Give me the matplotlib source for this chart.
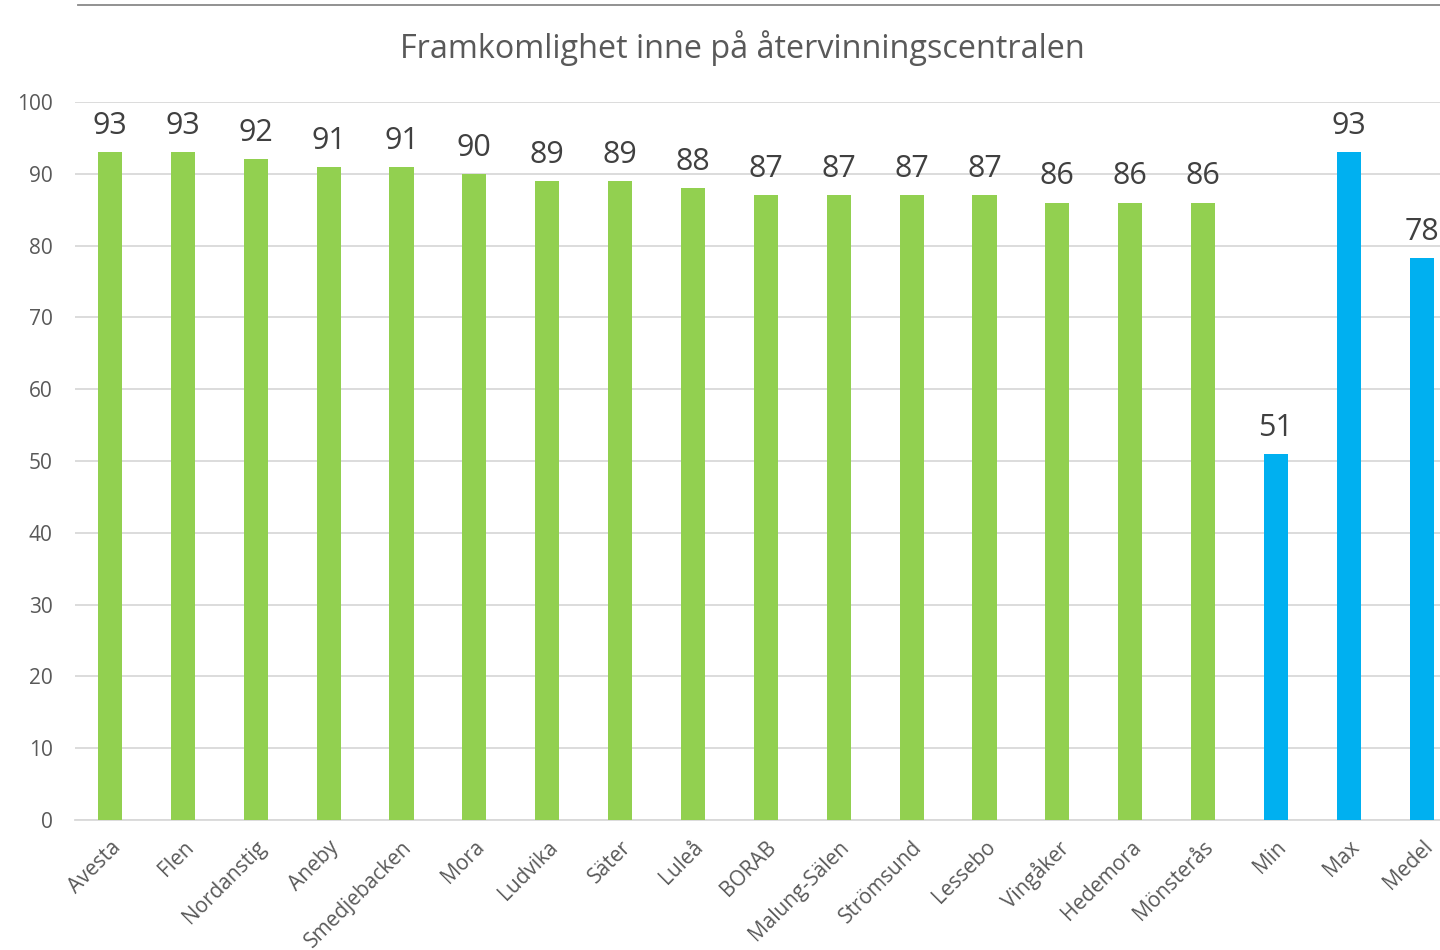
import numpy as np
import matplotlib.pyplot as plt
from matplotlib.lines import Line2D

plt.rcParams['font.family'] = ['Open Sans', 'DejaVu Sans']

categories = ["Avesta", "Flen", "Nordanstig", "Aneby", "Smedjebacken", "Mora",
              "Ludvika", "Säter", "Luleå", "BORAB", "Malung-Sälen", "Strömsund",
              "Lessebo", "Vingåker", "Hedemora", "Mönsterås", "Min", "Max", "Medel"]
values = [93, 93, 92, 91, 91, 90, 89, 89, 88, 87, 87, 87, 87, 86, 86, 86, 51, 93, 78.3]
is_summary = [False] * 16 + [True] * 3

green = "#92D050"
blue = "#00B0F0"
colors = [blue if s else green for s in is_summary]

fig = plt.figure(figsize=(14.4, 9.5), dpi=100)
ax = fig.add_axes([75 / 1440, 1 - 820 / 950, 1365 / 1440, 718 / 950])

x = np.arange(len(categories))
bars = ax.bar(x, values, width=0.33, color=colors, zorder=3)

for xi, v in zip(x, values):
    ax.annotate(f"{v:.0f}", (xi, v), xytext=(0, 8), textcoords="offset points",
                ha="center", va="bottom", fontsize=22, color="#404040")

ax.set_xlim(-0.48, 18.25)
ax.set_ylim(0, 100)
ax.set_yticks(np.arange(0, 101, 10))
ax.yaxis.grid(True, color="#D9D9D9", linewidth=1.3, zorder=0)
ax.set_axisbelow(True)
for side in ["top", "right", "left"]:
    ax.spines[side].set_visible(False)
ax.spines["bottom"].set_color("#D9D9D9")
ax.spines["bottom"].set_linewidth(1.3)
ax.tick_params(axis="both", length=0, labelsize=15, colors="#595959")
ax.tick_params(axis="y", pad=16)
ax.set_xticks(x)
ax.set_xticklabels(categories, rotation=45, ha="right", rotation_mode="anchor")
ax.tick_params(axis="x", pad=12)

fig.text(742 / 1440, 1 - 48 / 950, "Framkomlighet inne på återvinningscentralen",
         ha="center", va="center", fontsize=23.3, color="#595959")

fig.add_artist(Line2D([78 / 1440, 1.0], [1 - 5 / 950, 1 - 5 / 950],
                      color="#898989", linewidth=1.3, transform=fig.transFigure))

fig.savefig("out.png", dpi=100)
